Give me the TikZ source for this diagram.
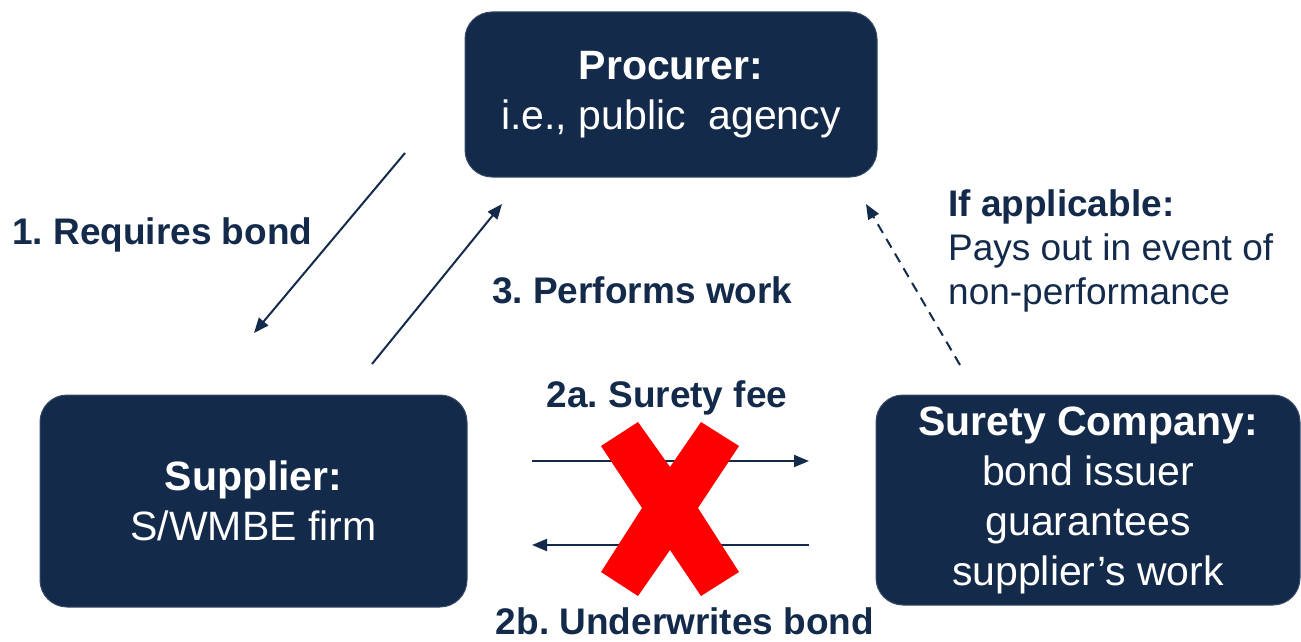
\documentclass[tikz,border=0pt]{standalone}
\usepackage{fontspec}
\setmainfont{Liberation Sans}
\usetikzlibrary{arrows.meta}
\definecolor{navy}{HTML}{132A4B}
\definecolor{xred}{HTML}{FF0000}
\frenchspacing
\begin{document}
\begin{tikzpicture}[x=1pt,y=-1pt,
  party/.style={draw=navy!85!white, line width=1pt, fill=navy, rounded corners=27pt,
    text=white, align=center, font=\fontsize{41}{50}\selectfont, inner sep=0pt},
  lbl/.style={text=navy, font=\fontsize{37}{44}\selectfont\bfseries, inner sep=0pt},
  note/.style={text=navy, font=\fontsize{37}{44}\selectfont, inner sep=0pt, align=left},
  flow/.style={draw=navy, line width=2pt, -{Triangle[length=15pt,width=12pt]}},
  maybe/.style={flow, dash pattern=on 10pt off 7pt}]
\useasboundingbox (0,0) rectangle (1301,642);

% parties
\node[party, minimum width=412pt, minimum height=165pt] (proc) at (671,94.5)
  {\rule{0pt}{8pt}\textbf{Procurer:}\\i.e., public~~agency};
\node[party, minimum width=427pt, minimum height=212pt] (supp) at (253.5,501)
  {\textbf{Supplier:}\\S/WMBE firm};
\node[party, minimum width=424pt, minimum height=210pt] (sure) at (1088,500)
  {\textbf{Surety Company:}\\bond issuer\\guarantees\\supplier’s work};

% connector end points
\coordinate (r1s) at (405,153);  \coordinate (r1e) at (254,333);
\coordinate (p3s) at (372,364);  \coordinate (p3e) at (502,204);
\coordinate (pys) at (960,365);  \coordinate (pye) at (866,204);
\coordinate (fas) at (532,461);  \coordinate (fae) at (809,461);
\coordinate (ubs) at (809,545);  \coordinate (ube) at (532,545);

\draw[flow] (r1s) -- (r1e);
\draw[flow] (p3s) -- (p3e);
\draw[maybe] (pys) -- (pye);
\draw[flow] (fas) -- (fae);
\draw[flow] (ubs) -- (ube);

% labels
\node[lbl, anchor=base west] (l1) at (12,244) {1. Requires bond};
\node[lbl, anchor=base west] (l3) at (492,303) {3. Performs work};
\node[lbl, anchor=base] (l2a) at (667,407) {2a. Surety fee};
\node[lbl, anchor=base] (l2b) at (685,634) {2b. Underwrites bond};
\node[note, anchor=west] (lp) at (948,251)
  {\textbf{If applicable:}\\Pays out in event of\\non-performance};

% crossed-out exchange
\fill[xred] (601,446) -- (638,422) -- (670,467) -- (701,422) -- (739,446)
  -- (698,508) -- (739,572) -- (701,596) -- (670,550) -- (638,596)
  -- (601,572) -- (642,508) -- cycle;
\end{tikzpicture}
\end{document}
